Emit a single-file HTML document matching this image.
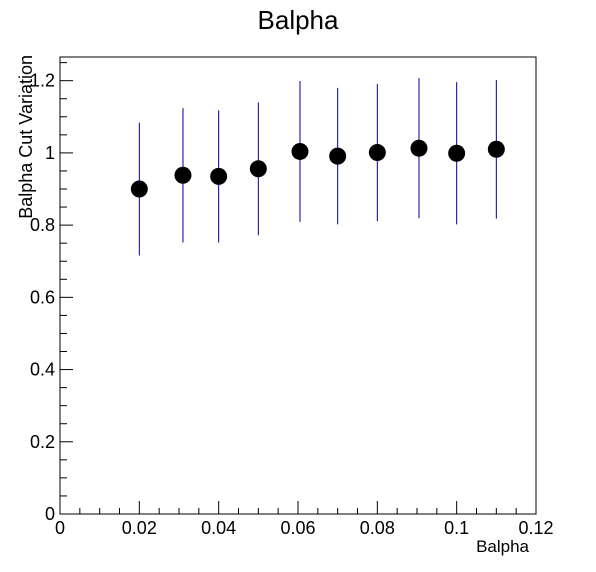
<!DOCTYPE html>
<html><head><meta charset="utf-8"><style>
body{margin:0;background:#fff;}
svg{display:block;font-family:"Liberation Sans",Arial,sans-serif;}
</style></head><body>
<svg id="chart" width="596" height="572" xmlns="http://www.w3.org/2000/svg">
<rect width="596" height="572" fill="#fff"/>
<text x="298" y="29" font-size="26" text-anchor="middle">Balpha</text>
<rect x="60" y="57" width="476" height="457" fill="none" stroke="#000" stroke-width="1"/>
<g id="axes"></g>
<g id="marks"></g>
<text x="529" y="552" font-size="17" text-anchor="end">Balpha</text>
<text transform="translate(32,55) rotate(-90)" font-size="18" text-anchor="end">Balpha Cut Variation</text>
</svg>
<script>
const xValues=[0.02,0.031,0.04,0.05,0.0605,0.07,0.08,0.0905,0.1,0.11];
const yValues=[0.900,0.938,0.935,0.956,1.004,0.991,1.001,1.013,0.999,1.010];
const yErrors=[0.184,0.186,0.183,0.184,0.195,0.189,0.190,0.194,0.197,0.192];
const xTicks=[0,0.02,0.04,0.06,0.08,0.1,0.12];
const xTickLabels=["0","0.02","0.04","0.06","0.08","0.1","0.12"];
const yTicks=[0,0.2,0.4,0.6,0.8,1,1.2];
const yTickLabels=["0","0.2","0.4","0.6","0.8","1","1.2"];
const X0=60,X1=536,Y0=514,Y1=57;
function sx(v){return X0+v*(X1-X0)/0.12;}
function sy(v){return Y0-v*361.1;}
const NS="http://www.w3.org/2000/svg";
const axes=document.getElementById('axes'),marks=document.getElementById('marks');
function mk(tag,at,parent){const e=document.createElementNS(NS,tag);for(const k in at)e.setAttribute(k,at[k]);parent.appendChild(e);return e;}
for(let i=0;i<=24;i++){const v=i*0.005;const x=sx(v);const major=i%4===0;
 const t=mk('line',{x1:x,x2:x,y1:Y0,y2:Y0-(major?13:6),stroke:'#000'},axes);
 
 }
xTicks.forEach((v,i)=>{const t=mk('text',{x:sx(v),y:534,'font-size':18,'text-anchor':'middle'},axes);t.textContent=xTickLabels[i];
 
 });
for(let i=0;;i++){const v=i*0.05;const y=sy(v);if(y<Y1)break;const major=i%4===0;
 const t=mk('line',{x1:X0,x2:X0+(major?13:7),y1:y,y2:y,stroke:'#000'},axes);
 
 }
yTicks.forEach((v,i)=>{const t=mk('text',{x:55,y:sy(v)+6,'font-size':18,'text-anchor':'end'},axes);t.textContent=yTickLabels[i];
 
 });
xValues.forEach((xv,i)=>{const x=sx(xv);
 const e=mk('line',{x1:x,x2:x,y1:sy(yValues[i]-yErrors[i]),y2:sy(yValues[i]+yErrors[i]),stroke:'#0000a0','stroke-width':1},marks);
 
 
 const c=mk('circle',{cx:x,cy:sy(yValues[i]),r:8.5,fill:'#000'},marks);
 
 });
</script>
</body></html>
